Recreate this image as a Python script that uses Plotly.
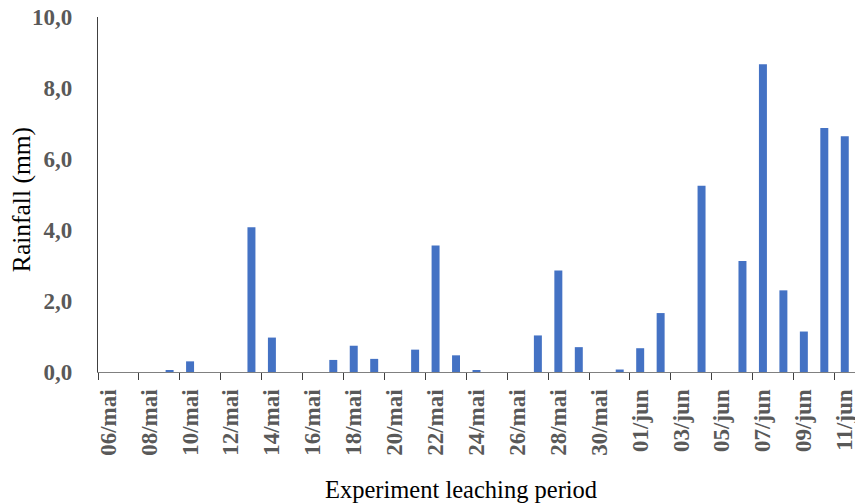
import plotly.graph_objects as go

days = ["06/mai", "07/mai", "08/mai", "09/mai", "10/mai", "11/mai", "12/mai", "13/mai",
        "14/mai", "15/mai", "16/mai", "17/mai", "18/mai", "19/mai", "20/mai", "21/mai",
        "22/mai", "23/mai", "24/mai", "25/mai", "26/mai", "27/mai", "28/mai", "29/mai",
        "30/mai", "31/mai", "01/jun", "02/jun", "03/jun", "04/jun", "05/jun", "06/jun",
        "07/jun", "08/jun", "09/jun", "10/jun", "11/jun"]
rainfall = [0, 0, 0, 0.05, 0.30, 0, 0, 4.08,
            0.97, 0, 0, 0.34, 0.74, 0.37, 0, 0.63,
            3.56, 0.47, 0.05, 0, 0, 1.03, 2.86, 0.70,
            0, 0.07, 0.67, 1.66, 0, 5.25, 0, 3.13,
            8.67, 2.30, 1.14, 6.87, 6.64]

y_title = "Rainfall (mm)"
x_title = "Experiment leaching period"

fig = go.Figure(go.Bar(x=days, y=rainfall, marker=dict(color="#4472C4", line=dict(width=0))))

serif = "Liberation Serif"
fig.update_layout(
    width=855, height=504,
    margin=dict(l=98, r=0, t=17, b=132, autoexpand=False),
    paper_bgcolor="white", plot_bgcolor="white",
    bargap=0.61,
    separators=",.",
    showlegend=False,
    font=dict(family=serif, size=24, color="#000000"),
)
fig.update_xaxes(
    type="category",
    dtick=2,
    tickson="boundaries",
    ticks="outside", ticklen=7, tickwidth=1.3, tickcolor="#404040",
    tickangle=-90,
    tickfont=dict(family=serif, size=23, color="#595959", weight="bold"),
    showline=True, linecolor="#808080", linewidth=1.3,
    showgrid=False, zeroline=False,
    ticklabelstandoff=7,
    automargin=False,
)
fig.update_yaxes(
    range=[0, 10], dtick=2, tickformat=".1f",
    showline=True, linecolor="#404040", linewidth=1.3,
    ticks="", showgrid=False, zeroline=False,
    tickfont=dict(family=serif, size=23, color="#595959", weight="bold"),
    ticklabelstandoff=20,
    automargin=False,
)
fig.add_annotation(text=y_title, xref="paper", yref="paper", x=-0.1, y=0.485,
                   xanchor="center", yanchor="middle", textangle=-90, showarrow=False,
                   font=dict(family=serif, size=25.5, color="#000000"))
fig.add_annotation(text=x_title, xref="paper", yref="paper", x=0.48, y=-0.33,
                   xanchor="center", yanchor="middle", showarrow=False,
                   font=dict(family=serif, size=24.5, color="#000000"))
fig.write_html("out.html", config={"displayModeBar": False},
               post_script="document.body.style.margin='0';")
